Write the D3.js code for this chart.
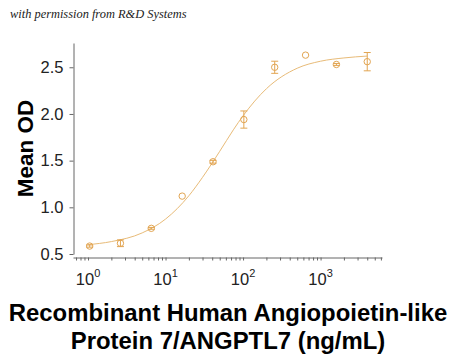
<!DOCTYPE html>
<html><head><meta charset="utf-8">
<script src="https://cdn.jsdelivr.net/npm/d3@7"></script>
<style>body{margin:0;background:#fff}svg{display:block}</style>
</head><body>
<svg id="c" width="450" height="355"></svg>
<script>
// Data
const concentrations = [1.05, 2.62, 6.55, 16.4, 40.96, 102.4, 256, 640, 1600, 4000];
const meanOD =         [0.585, 0.615, 0.775, 1.12, 1.488, 1.94, 2.50, 2.63, 2.53, 2.56];
const errOD =          [0.012, 0.036, 0.01, 0, 0.015, 0.092, 0.065, 0, 0.01, 0.098];
// fitted curve
const curveConc = [1, 2, 5, 10, 20, 30, 50, 75, 100, 200, 500, 1000, 2000, 4000];
const curveOD =   [0.60, 0.633, 0.726, 0.874, 1.124, 1.321, 1.60, 1.83, 1.98, 2.27, 2.49, 2.565, 2.60, 2.62];
const yTicks = [0.5, 1.0, 1.5, 2.0, 2.5];
const xTicks = [1, 10, 100, 1000];
const xTickExp = ["0", "1", "2", "3"];

const svg = d3.select("#c");
const x = d3.scaleLog().domain([0.64, 6200]).range([73, 382]);
const y = d3.scaleLinear().domain([0.5, 2.76]).range([254, 43]);
const col = "#E2A552";
const axisCol = "#666";

// y axis
const yAxis = svg.append("g").attr("transform", "translate(73.5,0)")
  .call(d3.axisLeft(y).tickValues(yTicks).tickFormat(d3.format(".1f")).tickSize(4).tickPadding(6).tickSizeOuter(0));
yAxis.select(".domain").attr("stroke", axisCol);
yAxis.selectAll(".tick line").attr("stroke", axisCol);
yAxis.selectAll(".tick text").attr("font-family", "Liberation Sans, Arial, sans-serif").attr("font-size", 16.5).attr("fill", "#222");

// x axis
const minor = [];
for (let e = -1; e <= 3; e++) for (let m = 1; m <= 9; m++) {
  const v = m * Math.pow(10, e);
  if (v >= 0.64 && v <= 6200) minor.push(v);
}
const xAxis = svg.append("g").attr("transform", "translate(0,257.5)")
  .call(d3.axisBottom(x).tickValues(minor).tickFormat("").tickSize(3).tickSizeOuter(0));
xAxis.select(".domain").attr("stroke", axisCol);
xAxis.selectAll(".tick line").attr("stroke", axisCol);

const xl = svg.append("g");
xTicks.forEach((t, i) => {
  const tx = xl.append("text").attr("x", x(t)).attr("y", 285).attr("text-anchor", "middle")
    .attr("font-family", "Liberation Sans, Arial, sans-serif").attr("font-size", 16.5).attr("fill", "#222");
  tx.append("tspan").text("10");
  tx.append("tspan").attr("dy", -8).attr("font-size", 11).text(xTickExp[i]);
});

// curve
svg.append("path")
  .datum(curveConc.map((c, i) => [c, curveOD[i]]))
  .attr("fill", "none").attr("stroke", "#E8BB78").attr("stroke-width", 1)
  .attr("d", d3.line().x(d => x(d[0])).y(d => y(d[1])).curve(d3.curveMonotoneX));

// points with error bars
const pts = svg.append("g").attr("stroke", col).attr("fill", "none").attr("stroke-width", 1);
concentrations.forEach((c, i) => {
  const cx = x(c), cy = y(meanOD[i]);
  if (errOD[i] > 0) {
    const y1 = y(meanOD[i] + errOD[i]), y2 = y(meanOD[i] - errOD[i]);
    pts.append("line").attr("x1", cx).attr("x2", cx).attr("y1", y1).attr("y2", y2);
    pts.append("line").attr("x1", cx - 3.5).attr("x2", cx + 3.5).attr("y1", y1).attr("y2", y1);
    pts.append("line").attr("x1", cx - 3.5).attr("x2", cx + 3.5).attr("y1", y2).attr("y2", y2);
  }
  pts.append("circle").attr("cx", cx).attr("cy", cy).attr("r", 3.2);
});

// titles
svg.append("text").attr("transform", "translate(33,148.5) rotate(-90)").attr("text-anchor", "middle")
  .attr("font-family", "Liberation Sans, Arial, sans-serif").attr("font-weight", "bold").attr("font-size", 22.5)
  .attr("fill", "#000").text("Mean OD");
const xt = svg.append("text").attr("text-anchor", "middle")
  .attr("font-family", "Liberation Sans, Arial, sans-serif").attr("font-weight", "bold").attr("font-size", 23.9).attr("fill", "#000");
xt.append("tspan").attr("x", 228).attr("y", 321).text("Recombinant Human Angiopoietin-like");
xt.append("tspan").attr("x", 228).attr("y", 349).text("Protein 7/ANGPTL7 (ng/mL)");

svg.append("text").attr("x", 10).attr("y", 18)
  .attr("font-family", "Liberation Serif, serif").attr("font-style", "italic").attr("font-size", 12.4)
  .attr("fill", "#222").text("with permission from R&D Systems");
</script>
</body></html>
